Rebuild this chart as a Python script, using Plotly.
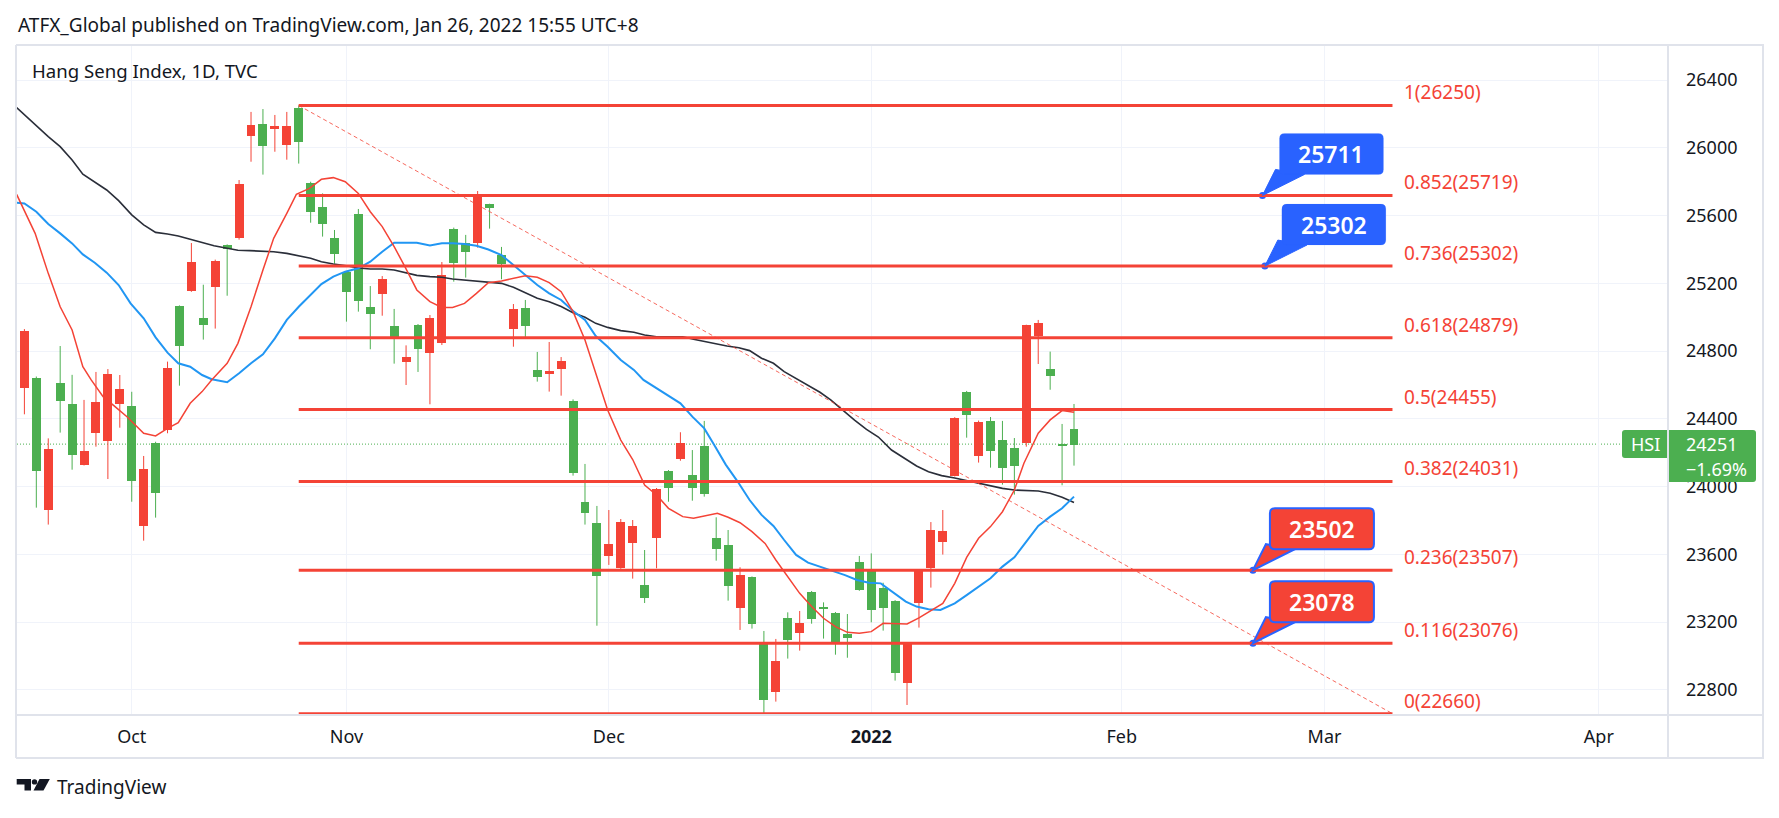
import plotly.graph_objects as go

# ---------------- data ----------------
bars = list(range(89))
opens = [24919, 24094, 24222, 24508, 24189, 24210, 24500, 24665, 24576, 24035,
         24104, 23965, 24699, 24832, 25326, 24956, 25332, 25405, 25787, 26135,
         26013, 26129, 26129, 26036, 25623, 25552, 25375, 25151, 25098, 25021,
         25226, 24870, 24765, 24810, 24994, 25247, 25322, 25387, 25708, 25647,
         25316, 25049, 24950, 24649, 24683, 24742, 24079, 23846, 23475, 23661,
         23791, 23768, 23345, 23986, 23994, 24256, 23994, 23955, 23634, 23416,
         23478, 23191, 22743, 22971, 23097, 23195, 23221, 23280, 23085, 23109,
         23392, 23274, 23286, 22902, 23071, 23506, 23744, 23738, 24405, 24425,
         24382, 24213, 24112, 24124, 24954, 24968, 24655, 24243, 24248]
highs = [24930, 24650, 24285, 24830, 24660, 24512, 24677, 24694, 24659, 24560,
         24181, 24265, 24738, 25070, 25438, 25192, 25340, 25430, 25810, 26212,
         26229, 26194, 26212, 26250, 25800, 25731, 25515, 25270, 25639, 25184,
         25243, 25049, 24834, 24960, 25013, 25326, 25529, 25486, 25745, 25670,
         25415, 25078, 25102, 24795, 24854, 24765, 24515, 24134, 23886, 23862,
         23809, 23803, 23626, 23992, 24098, 24321, 24216, 24388, 23819, 23744,
         23524, 23470, 23148, 23101, 23258, 23266, 23384, 23317, 23260, 23248,
         23591, 23606, 23433, 23330, 23075, 23510, 23791, 23862, 24410, 24565,
         24390, 24411, 24388, 24287, 24956, 24984, 24797, 24370, 24488]
lows = [24427, 23876, 23776, 24319, 24100, 24125, 24236, 24045, 24348, 23911,
        23681, 23817, 24315, 24596, 25150, 24868, 24933, 25127, 25458, 25918,
        25842, 25977, 25930, 25907, 25558, 25476, 25316, 24974, 25033, 24811,
        25009, 24726, 24600, 24677, 24486, 24836, 25210, 25234, 25411, 25523,
        25224, 24826, 24874, 24620, 24561, 24537, 24065, 23776, 23179, 23538,
        23515, 23457, 23313, 23518, 23911, 24153, 23917, 23941, 23563, 23327,
        23154, 23162, 22660, 22731, 22985, 23032, 23191, 23103, 23008, 22990,
        23385, 23199, 23150, 22855, 22711, 23168, 23404, 23599, 24060, 24289,
        24142, 24112, 24012, 23953, 24236, 24724, 24572, 24008, 24124]
closes = [24584, 24640, 23864, 24610, 24488, 24130, 24319, 24270, 24488, 24476,
          23770, 24258, 24336, 25066, 25157, 24997, 25180, 25426, 25470, 26072,
          26143, 26113, 26019, 26235, 25792, 25651, 25468, 25267, 25609, 25058,
          25139, 24948, 24738, 24952, 24787, 24850, 25521, 25436, 25438, 25666,
          25367, 24932, 25055, 24689, 24667, 24697, 24508, 23909, 23785, 23593,
          23522, 23669, 23419, 23699, 24092, 24165, 24069, 24240, 23697, 23656,
          23286, 23467, 23083, 22790, 23225, 23138, 23378, 23286, 23254, 23132,
          23555, 23514, 23402, 23325, 22843, 23313, 23522, 23675, 24065, 24559,
          24183, 24388, 24275, 24228, 24256, 24889, 24694, 24250, 24340]

# moving averages (bar position, value)
ma_fast_x = [-0.65, 0.9, 2.0, 3.0, 4.0, 4.9, 5.6, 6.6, 7.6, 8.6, 10, 11, 12, 12.9, 13.9,
             14.9, 15.7, 17, 17.9, 19, 20, 20.9, 22, 22.8, 23.9, 24.9, 25.9, 26.9, 28,
             29, 30, 31, 31.9, 32.9, 34, 35, 35.9, 36.9, 37.9, 38.9, 40, 42, 43, 44, 45,
             46, 47, 47.9, 48.9, 50, 51, 52, 53, 54, 55.2, 56.1, 57.1, 58.1, 59, 60, 61,
             62.1, 63, 64, 65, 66, 67, 68, 69, 70, 71, 72, 73, 74, 75, 76, 77, 78, 79,
             80, 81, 82, 83, 83.8, 85, 86, 87, 88]
ma_fast_y = [25725, 25495, 25259, 25062, 24925, 24708, 24630, 24531, 24472, 24413, 24315,
             24299, 24344, 24378, 24492, 24561, 24630, 24728, 24846, 25062, 25279, 25466,
             25613, 25725, 25761, 25814, 25824, 25800, 25731, 25623, 25535, 25417, 25299,
             25161, 25092, 25058, 25058, 25082, 25141, 25204, 25214, 25245, 25236, 25204,
             25151, 25033, 24866, 24669, 24452, 24275, 24160, 24010, 23951, 23872, 23823,
             23813, 23827, 23843, 23819, 23787, 23734, 23665, 23567, 23469, 23370, 23292,
             23223, 23174, 23140, 23134, 23144, 23193, 23193, 23189, 23225, 23267, 23311,
             23429, 23582, 23695, 23764, 23852, 23980, 24138, 24315, 24394, 24449, 24439]
ma_mid_x = [-0.65, 0, 1, 2, 3, 4, 4.9, 5.9, 6.9, 7.9, 8.9, 10, 11, 12, 12.9, 13.9, 14.9,
            15.7, 17, 18, 19, 20, 21, 22, 23, 24, 24.9, 25.9, 26.9, 28, 29, 30, 31, 31.9,
            32.9, 34, 35, 35.9, 36.9, 37.9, 38.9, 40, 41, 42, 43, 44, 45, 46, 47, 47.9,
            48.9, 50, 51.1, 51.9, 53, 54, 55, 56, 57, 57.8, 58.8, 59.8, 60.8, 61.8, 62.8,
            63.7, 64.7, 65.7, 66.8, 67.8, 68.8, 69.8, 70.8, 71.8, 72.9, 73.9, 74.8, 75.8,
            76.8, 78, 79, 80, 81, 82, 83, 84, 85, 86, 87, 88]
ma_mid_y = [25676, 25672, 25623, 25550, 25495, 25436, 25371, 25322, 25263, 25190, 25082,
            24994, 24881, 24791, 24728, 24708, 24659, 24634, 24616, 24669, 24728, 24781,
            24875, 24984, 25062, 25131, 25196, 25240, 25269, 25289, 25328, 25387, 25440,
            25440, 25440, 25424, 25436, 25436, 25432, 25422, 25400, 25367, 25308, 25249,
            25190, 25141, 25102, 25037, 24984, 24889, 24826, 24748, 24689, 24630, 24580,
            24535, 24492, 24413, 24344, 24250, 24130, 24030, 23921, 23833, 23768, 23685,
            23597, 23551, 23524, 23504, 23478, 23449, 23433, 23429, 23370, 23321, 23292,
            23276, 23272, 23311, 23360, 23410, 23459, 23528, 23583, 23675, 23768, 23823,
            23872, 23941]
ma_slow_x = [-0.65, 0.75, 2, 3, 4, 4.9, 5.9, 6.9, 7.9, 9, 10, 11, 12, 12.9, 13.9, 14.9,
             15.9, 17, 17.9, 18.9, 19.9, 20.9, 22, 23, 24, 24.9, 25.9, 27, 28, 29, 30, 31,
             31.9, 32.9, 34, 35, 35.9, 36.9, 37.9, 38.9, 40, 41, 42, 43, 44, 45, 46, 47,
             47.9, 48.9, 50, 51.1, 52, 53, 54, 55.2, 56.1, 57.1, 57.9, 58.9, 59.9, 60.8,
             61.8, 62.8, 63.7, 64.7, 65.7, 66.7, 67.6, 68.6, 69.6, 70.6, 71.6, 72.7, 73.8,
             74.8, 75.8, 76.9, 78, 79, 80, 81, 82, 83, 84, 85, 86, 87, 88]
ma_slow_y = [26237, 26145, 26066, 26007, 25928, 25844, 25800, 25751, 25688, 25604, 25545,
             25501, 25491, 25480, 25460, 25440, 25422, 25407, 25395, 25393, 25391, 25387,
             25377, 25364, 25348, 25328, 25314, 25304, 25291, 25285, 25285, 25279, 25265,
             25247, 25240, 25236, 25226, 25220, 25214, 25210, 25200, 25177, 25145, 25112,
             25092, 25063, 25027, 25000, 24964, 24940, 24921, 24911, 24895, 24885, 24885,
             24885, 24870, 24856, 24842, 24830, 24820, 24803, 24758, 24728, 24679, 24639,
             24600, 24557, 24512, 24452, 24393, 24338, 24293, 24216, 24167, 24122, 24088,
             24065, 24051, 24035, 24020, 24004, 23990, 23980, 23976, 23974, 23961, 23937,
             23907]

fib_ratios = ["1", "0.852", "0.736", "0.618", "0.5", "0.382", "0.236", "0.116", "0"]
fib_values = [26250, 25719, 25302, 24879, 24455, 24031, 23507, 23076, 22660]
fib_start_bar = 23
fib_end_bar = 114.7

callout_texts = ["25711", "25302", "23502", "23078"]
callout_levels = [25719, 25302, 23507, 23076]
callout_bars = [103.8, 104.0, 103.0, 103.0]
callout_kinds = ["blue", "blue", "red", "red"]

month_ticks = [9, 27, 49, 71, 92, 109, 132]
month_labels = ["Oct", "Nov", "Dec", "<b>2022</b>", "Feb", "Mar", "Apr"]
price_ticks = [22800, 23200, 23600, 24000, 24400, 24800, 25200, 25600, 26000, 26400]
price_labels = ["22800", "23200", "23600", "24000", "24400", "24800", "25200", "25600", "26000", "26400"]

symbol = "HSI"
last_price = 24251
last_change = "\u22121.69%"
header_text = "ATFX_Global published on TradingView.com, Jan 26, 2022 15:55 UTC+8"
legend_text = "Hang Seng Index, 1D, TVC"
x_range = [-0.62, 137.8]
y_range = [22652, 26607]

# ---------------- styling ----------------
W, H = 1779, 818
PL, PR, PT, PB = 17, 1668, 45, 715
GREEN = "#4CAF50"
RED = "#F44336"
BLUE = "#2962FF"
TEXT = "#131722"
BORDER = "#E0E3EB"
GRID = "#F0F3FA"
FONT = "Noto Sans, Open Sans, sans-serif"


def xp(px):
    return (px - PL) / (PR - PL)


def yp(py):
    return (PB - py) / (PB - PT)


def rrect(x0, y0, x1, y1, r):
    return (f"M{x0 + r},{y0} L{x1 - r},{y0} Q{x1},{y0} {x1},{y0 + r} "
            f"L{x1},{y1 - r} Q{x1},{y1} {x1 - r},{y1} L{x0 + r},{y1} "
            f"Q{x0},{y1} {x0},{y1 - r} L{x0},{y0 + r} Q{x0},{y0} {x0 + r},{y0} Z")


fig = go.Figure()

# wicks
for up, col in ((True, GREEN), (False, RED)):
    wx, wy = [], []
    for i, o, h, l, c in zip(bars, opens, highs, lows, closes):
        if (c >= o) == up:
            wx += [i, i, None]
            wy += [l, h, None]
    fig.add_trace(go.Scatter(x=wx, y=wy, mode="lines", line=dict(color=col, width=1),
                             hoverinfo="skip", showlegend=False))

# bodies
min_body = 7
fig.add_trace(go.Bar(
    x=bars,
    base=[min(o, c) for o, c in zip(opens, closes)],
    y=[max(abs(c - o), min_body) for o, c in zip(opens, closes)],
    width=0.75,
    marker=dict(color=[GREEN if c >= o else RED for o, c in zip(opens, closes)], line=dict(width=0)),
    hoverinfo="skip", showlegend=False))

# moving averages
fig.add_trace(go.Scatter(x=ma_slow_x, y=ma_slow_y, mode="lines",
                         line=dict(color="#2A2E39", width=1.6), hoverinfo="skip", showlegend=False))
fig.add_trace(go.Scatter(x=ma_mid_x, y=ma_mid_y, mode="lines",
                         line=dict(color="#2196F3", width=2), hoverinfo="skip", showlegend=False))
fig.add_trace(go.Scatter(x=ma_fast_x, y=ma_fast_y, mode="lines",
                         line=dict(color=RED, width=1.5), hoverinfo="skip", showlegend=False))

shapes = []
annotations = []

# last price dotted line
shapes.append(dict(type="line", xref="paper", yref="y", x0=0, x1=1, y0=last_price, y1=last_price,
                   line=dict(color=GREEN, width=1, dash="1px,2px"), layer="below"))

# trend (dashed) line
shapes.append(dict(type="line", xref="x", yref="y", x0=fib_start_bar, y0=fib_values[0],
                   x1=fib_end_bar, y1=fib_values[-1],
                   line=dict(color="rgba(244,67,54,0.8)", width=1, dash="4px,3px")))

# fib levels
for r, v in zip(fib_ratios, fib_values):
    shapes.append(dict(type="line", xref="x", yref="y", x0=fib_start_bar, x1=fib_end_bar, y0=v, y1=v,
                       line=dict(color=RED, width=3)))
    annotations.append(dict(x=fib_end_bar, y=v, xref="x", yref="y", text=f"{r}({v})",
                            showarrow=False, xanchor="left", yanchor="middle", xshift=10, yshift=13,
                            font=dict(family=FONT, size=19, color=RED)))

# callouts
bx0, bx1, by0, by1 = 17, 121, 21, 62
for t, lv, b, kind in zip(callout_texts, callout_levels, callout_bars, callout_kinds):
    fill = BLUE if kind == "blue" else RED
    lw = 0 if kind == "blue" else 2
    common = dict(xref="x", yref="y", xsizemode="pixel", ysizemode="pixel", xanchor=b, yanchor=lv)
    shapes.append(dict(type="path", path="M0,0 L13,26 L42,21 Z", fillcolor=fill,
                       line=dict(color=BLUE, width=lw if lw else 1), **common))
    shapes.append(dict(type="path", path=rrect(bx0, by0, bx1, by1, 5), fillcolor=fill,
                       line=dict(color=BLUE, width=lw if lw else 0.1), **common))
    annotations.append(dict(x=b, y=lv, xref="x", yref="y", text=t, showarrow=False,
                            xanchor="center", yanchor="middle",
                            xshift=(bx0 + bx1) / 2, yshift=(by0 + by1) / 2,
                            font=dict(family=FONT, size=23, color="white", weight=600)))
fig.add_trace(go.Scatter(x=callout_bars, y=callout_levels, mode="markers",
                         marker=dict(color=BLUE, size=7), hoverinfo="skip", showlegend=False))

# last price label on the price scale
lab = dict(xref="paper", yref="y", xsizemode="pixel", ysizemode="pixel", xanchor=1, yanchor=last_price)
shapes.append(dict(type="path", path="M-46,-14 L0,-14 L0,14 L-43,14 Q-46,14 -46,11 L-46,-11 Q-46,-14 -43,-14 Z",
                   fillcolor=GREEN, line=dict(width=0), **lab))
shapes.append(dict(type="path", path="M0,14 L85,14 Q88,14 88,11 L88,-35 Q88,-38 85,-38 L0,-38 Z",
                   fillcolor=GREEN, line=dict(width=0), **lab))
annotations.append(dict(x=1, y=last_price, xref="paper", yref="y", text=symbol, showarrow=False,
                        xanchor="center", yanchor="middle", xshift=-23,
                        font=dict(family=FONT, size=18, color="white")))
annotations.append(dict(x=1, y=last_price, xref="paper", yref="y", text=str(last_price),
                        showarrow=False, xanchor="left", yanchor="middle", xshift=16,
                        font=dict(family=FONT, size=18, color="white")))
annotations.append(dict(x=1, y=last_price, xref="paper", yref="y", text=last_change,
                        showarrow=False, xanchor="left", yanchor="middle", xshift=16, yshift=-25,
                        font=dict(family=FONT, size=18, color="white")))

# frame of the chart widget
for (x0, y0, x1, y1) in [(16, 45, 1764, 45), (16, 45, 16, 758), (1763, 45, 1763, 758),
                         (16, 758, 1764, 758), (16, 715, 1764, 715), (1668, 45, 1668, 758)]:
    shapes.append(dict(type="line", xref="paper", yref="paper", x0=xp(x0), x1=xp(x1),
                       y0=yp(y0), y1=yp(y1), line=dict(color=BORDER, width=2), layer="above"))


# TradingView logo (icon)
def poly(pts):
    return "M" + " L".join(f"{xp(a)},{yp(b)}" for a, b in pts) + " Z"


shapes.append(dict(type="path", xref="paper", yref="paper",
                   path=poly([(16.7, 779), (31, 779), (31, 790.5), (24.5, 790.5), (24.5, 784.5), (16.7, 784.5)]),
                   fillcolor=TEXT, line=dict(width=0)))
shapes.append(dict(type="circle", xref="paper", yref="paper", x0=xp(31.8), x1=xp(37.2),
                   y0=yp(779.2), y1=yp(784.6), fillcolor=TEXT, line=dict(width=0)))
shapes.append(dict(type="path", xref="paper", yref="paper",
                   path=poly([(39.5, 779), (49.8, 779), (43.5, 790.5), (33.5, 790.5)]),
                   fillcolor=TEXT, line=dict(width=0)))

annotations.append(dict(x=xp(55), y=yp(787), xref="paper", yref="paper", text="TradingView",
                        showarrow=False, xanchor="left", yanchor="middle",
                        font=dict(family=FONT, size=19, color=TEXT)))
annotations.append(dict(x=xp(16), y=yp(25), xref="paper", yref="paper", text=header_text,
                        showarrow=False, xanchor="left", yanchor="middle",
                        font=dict(family=FONT, size=19, color=TEXT)))
annotations.append(dict(x=xp(30), y=yp(70), xref="paper", yref="paper", text=legend_text,
                        showarrow=False, xanchor="left", yanchor="middle",
                        font=dict(family=FONT, size=18.6, color=TEXT)))

fig.update_layout(
    width=W, height=H,
    margin=dict(l=PL, r=W - PR, t=PT, b=H - PB, pad=0),
    paper_bgcolor="white", plot_bgcolor="white",
    showlegend=False, bargap=0,
    shapes=shapes, annotations=annotations,
    font=dict(family=FONT, color=TEXT),
    xaxis=dict(range=x_range, tickvals=month_ticks, ticktext=month_labels,
               showgrid=True, gridcolor=GRID, gridwidth=1, zeroline=False, showline=False,
               ticks="", tickfont=dict(family=FONT, size=18, color=TEXT), ticklabelstandoff=9,
               fixedrange=True),
    yaxis=dict(range=y_range, side="right", tickvals=price_ticks, ticktext=price_labels,
               showgrid=True, gridcolor=GRID, gridwidth=1, zeroline=False, showline=False,
               ticks="", tickfont=dict(family=FONT, size=18, color=TEXT), ticklabelstandoff=17,
               fixedrange=True),
)

fig.write_html("out.html", config={"displayModeBar": False},
               post_script="document.body.style.margin='0';document.body.style.overflow='hidden';")
